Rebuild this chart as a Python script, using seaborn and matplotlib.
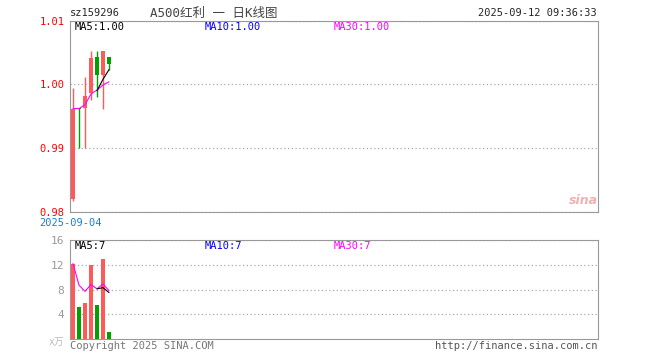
import numpy as np
import pandas as pd
from matplotlib import pyplot as plt
import seaborn as sns

# daily candles (red = up, green = down)
opens = [0.9820, 0.9963, 0.9963, 0.9986, 1.0043, 1.0015, 1.0043]
closes = [0.9962, 0.9961, 0.9982, 1.0042, 1.0015, 1.0053, 1.0032]
highs = [0.9995, 0.9963, 1.0012, 1.0053, 1.0053, 1.0053, 1.0043]
lows = [0.9818, 0.9901, 0.9901, 0.9975, 0.9980, 0.9962, 1.0022]
ma5 = [np.nan, np.nan, np.nan, np.nan, 0.9990, 1.0008, 1.0023]
ma30 = [0.9962, 0.9962, 0.9968, 0.9985, 0.9991, 0.9999, 1.0004]

vol = [12.2, 5.1, 5.8, 11.9, 5.5, 13.0, 1.2]
vol_ma5 = [np.nan, np.nan, np.nan, np.nan, 8.1, 8.3, 7.5]
vol_ma30 = [12.2, 8.7, 7.7, 8.8, 8.1, 8.9, 7.8]

price_ticks = [0.98, 0.99, 1.00, 1.01]
vol_ticks = [4, 8, 12, 16]
first_date = '2025-09-04'

RED = '#ff5a5a'
GREEN = '#00a000'
EDGE = '#999999'
MONO = ['DejaVu Sans Mono', 'Noto Sans CJK SC']

sns.set_style('white')
plt.rcParams['font.family'] = MONO

W, H = 660, 360
fig = plt.figure(figsize=(6.6, 3.6), dpi=100)

def rect(l, t, r, b):
    return [l / W, 1 - b / H, (r - l) / W, (b - t) / H]

def ftext(x, y, s, **kw):
    fig.text(x / W, 1 - y / H, s, **kw)

idx = np.arange(len(opens))
up = np.array(closes) >= np.array(opens)
up[1] = False
colors = [RED if u else GREEN for u in up]

# price panel
ax = fig.add_axes(rect(70, 20.5, 597.5, 212))
ax.vlines(idx, lows, highs, colors=colors, lw=1)
bottom = np.minimum(opens, closes)
height = np.maximum(np.abs(np.array(closes) - np.array(opens)), 0.00012)
ax.bar(idx, height, bottom=bottom, width=0.8, color=colors, linewidth=0)
df = pd.DataFrame({'i': idx, 'ma5': ma5, 'ma30': ma30})
sns.lineplot(data=df, x='i', y='ma30', color='#ff00ff', lw=0.8, ax=ax)
sns.lineplot(data=df, x='i', y='ma5', color='black', lw=0.8, ax=ax)
ax.set_xlim(-0.5, 87.4)
ax.set_ylim(0.98, 1.01)
ax.set_yticks(price_ticks)
ax.set_yticklabels([f'{t:.2f}' for t in price_ticks], color='red', fontsize=7.5)
ax.set_xticks([])
ax.set_xlabel('')
ax.set_ylabel('')
ax.grid(axis='y', ls=(0, (1, 2)), color='#aaaaaa', lw=0.9)
ax.tick_params(length=0, pad=4)
for s in ax.spines.values():
    s.set_color(EDGE)

# volume panel
vx = fig.add_axes(rect(70, 240, 597.5, 339))
vdf = pd.DataFrame({'i': idx, 'vol': vol, 'c': colors})
sns.barplot(data=vdf, x='i', y='vol', hue='i', palette=colors, width=0.8,
            legend=False, saturation=1, linewidth=0, ax=vx)
mdf = pd.DataFrame({'i': idx, 'ma5': vol_ma5, 'ma30': vol_ma30})
vx.plot(mdf.i, mdf.ma30, color='#ff00ff', lw=0.8)
vx.plot(mdf.i, mdf.ma5, color='black', lw=0.8)
vx.set_xlim(-0.5, 87.4)
vx.set_ylim(0, 16)
vx.set_yticks(vol_ticks)
vx.set_yticklabels([str(t) for t in vol_ticks], color='#999999', fontsize=8)
vx.set_xticks([])
vx.set_xlabel('')
vx.set_ylabel('')
vx.grid(axis='y', ls=(0, (1, 2)), color='#aaaaaa', lw=0.9)
vx.tick_params(length=0, pad=4)
for s in vx.spines.values():
    s.set_color(EDGE)

# header / footer text
ftext(70, 13, 'sz159296', fontsize=7.5, va='center')
ftext(150, 13, 'A500红利 一 日K线图', fontsize=9, va='center', color='#444444', family=MONO)
ftext(597, 13, '2025-09-12 09:36:33', fontsize=7.5, va='center', ha='right')
ftext(70, 223, first_date, fontsize=7.5, va='center', ha='center', color='#1a7fd0')

for y, vals in [(27, ('1.00', '1.00', '1.00')), (246, ('7', '7', '7'))]:
    ftext(75, y, f'MA5:{vals[0]}', fontsize=7.5, va='center', color='black')
    ftext(205, y, f'MA10:{vals[1]}', fontsize=7.5, va='center', color='#0000ff')
    ftext(334, y, f'MA30:{vals[2]}', fontsize=7.5, va='center', color='#ff00ff')

ftext(64, 342, 'x万', fontsize=7, va='center', ha='right', color='#bbbbbb', family=MONO)
ftext(70, 346, 'Copyright 2025 SINA.COM', fontsize=7.5, va='center', color='#777777')
ftext(597, 346, 'http://finance.sina.com.cn', fontsize=7.5, va='center', ha='right', color='#555555')
ftext(583, 200, 'sina', fontsize=9, va='center', ha='center', color='#f2b0b0',
      style='italic', weight='bold', family='DejaVu Sans')

fig.savefig('out.png', dpi=100)
